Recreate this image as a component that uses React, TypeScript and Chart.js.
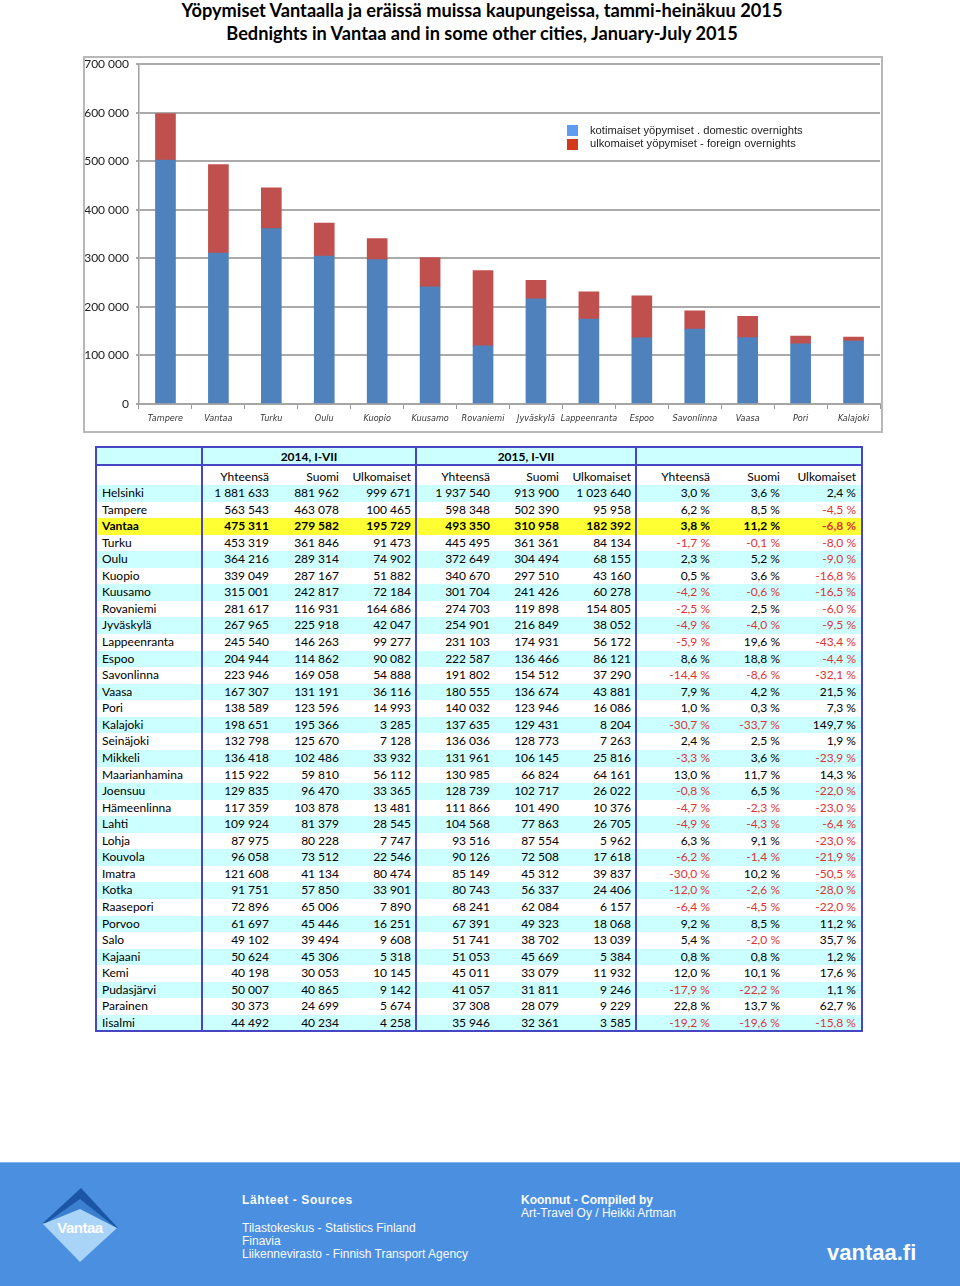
import React, { useEffect, useRef } from "react";
import { Chart, registerables } from "chart.js";

Chart.register(...registerables);

const titleFi = "Yöpymiset Vantaalla ja eräissä muissa kaupungeissa, tammi-heinäkuu 2015";
const titleEn = "Bednights in Vantaa and in some other cities, January-July 2015";

const groupHeaders = ["2014, I-VII", "2015, I-VII", ""];
const subHeaders = ["Yhteensä", "Suomi", "Ulkomaiset"];

const cities = [
  "Helsinki", "Tampere", "Vantaa", "Turku", "Oulu", "Kuopio", "Kuusamo", "Rovaniemi",
  "Jyväskylä", "Lappeenranta", "Espoo", "Savonlinna", "Vaasa", "Pori", "Kalajoki",
  "Seinäjoki", "Mikkeli", "Maarianhamina", "Joensuu", "Hämeenlinna", "Lahti", "Lohja",
  "Kouvola", "Imatra", "Kotka", "Raasepori", "Porvoo", "Salo", "Kajaani", "Kemi",
  "Pudasjärvi", "Parainen", "Iisalmi",
];

const total2014 = [
  1881633, 563543, 475311, 453319, 364216, 339049, 315001, 281617, 267965, 245540, 204944,
  223946, 167307, 138589, 198651, 132798, 136418, 115922, 129835, 117359, 109924, 87975,
  96058, 121608, 91751, 72896, 61697, 49102, 50624, 40198, 50007, 30373, 44492,
];
const finland2014 = [
  881962, 463078, 279582, 361846, 289314, 287167, 242817, 116931, 225918, 146263, 114862,
  169058, 131191, 123596, 195366, 125670, 102486, 59810, 96470, 103878, 81379, 80228,
  73512, 41134, 57850, 65006, 45446, 39494, 45306, 30053, 40865, 24699, 40234,
];
const foreign2014 = [
  999671, 100465, 195729, 91473, 74902, 51882, 72184, 164686, 42047, 99277, 90082,
  54888, 36116, 14993, 3285, 7128, 33932, 56112, 33365, 13481, 28545, 7747,
  22546, 80474, 33901, 7890, 16251, 9608, 5318, 10145, 9142, 5674, 4258,
];
const total2015 = [
  1937540, 598348, 493350, 445495, 372649, 340670, 301704, 274703, 254901, 231103, 222587,
  191802, 180555, 140032, 137635, 136036, 131961, 130985, 128739, 111866, 104568, 93516,
  90126, 85149, 80743, 68241, 67391, 51741, 51053, 45011, 41057, 37308, 35946,
];
const finland2015 = [
  913900, 502390, 310958, 361361, 304494, 297510, 241426, 119898, 216849, 174931, 136466,
  154512, 136674, 123946, 129431, 128773, 106145, 66824, 102717, 101490, 77863, 87554,
  72508, 45312, 56337, 62084, 49323, 38702, 45669, 33079, 31811, 28079, 32361,
];
const foreign2015 = [
  1023640, 95958, 182392, 84134, 68155, 43160, 60278, 154805, 38052, 56172, 86121,
  37290, 43881, 16086, 8204, 7263, 25816, 64161, 26022, 10376, 26705, 5962,
  17618, 39837, 24406, 6157, 18068, 13039, 5384, 11932, 9246, 9229, 3585,
];
const changeTotal = [
  3.0, 6.2, 3.8, -1.7, 2.3, 0.5, -4.2, -2.5, -4.9, -5.9, 8.6, -14.4, 7.9, 1.0, -30.7, 2.4,
  -3.3, 13.0, -0.8, -4.7, -4.9, 6.3, -6.2, -30.0, -12.0, -6.4, 9.2, 5.4, 0.8, 12.0, -17.9, 22.8, -19.2,
];
const changeFinland = [
  3.6, 8.5, 11.2, -0.1, 5.2, 3.6, -0.6, 2.5, -4.0, 19.6, 18.8, -8.6, 4.2, 0.3, -33.7, 2.5,
  3.6, 11.7, 6.5, -2.3, -4.3, 9.1, -1.4, 10.2, -2.6, -4.5, 8.5, -2.0, 0.8, 10.1, -22.2, 13.7, -19.6,
];
const changeForeign = [
  2.4, -4.5, -6.8, -8.0, -9.0, -16.8, -16.5, -6.0, -9.5, -43.4, -4.4, -32.1, 21.5, 7.3, 149.7, 1.9,
  -23.9, 14.3, -22.0, -23.0, -6.4, -23.0, -21.9, -50.5, -28.0, -22.0, 11.2, 35.7, 1.2, 17.6, 1.1, 62.7, -15.8,
];

// Chart shows the 2015 figures of the 14 cities after Helsinki
const chartCities = cities.slice(1, 15);
const chartDomestic = finland2015.slice(1, 15);
const chartForeign = foreign2015.slice(1, 15);
const yMin = 0;
const yMax = 700000;
const yStep = 100000;
const legendLabels = [
  "kotimaiset yöpymiset . domestic overnights",
  "ulkomaiset yöpymiset - foreign overnights",
];

const sourcesTitle = "Lähteet - Sources";
const sources = [
  "Tilastokeskus - Statistics Finland",
  "Finavia",
  "Liikennevirasto - Finnish Transport Agency",
];
const compiledTitle = "Koonnut - Compiled by";
const compiledBy = "Art-Travel Oy / Heikki Artman";

const fmtInt = (n: number) =>
  Math.round(n).toString().replace(/\B(?=(\d{3})+(?!\d))/g, "\u00a0");
const fmtPct = (p: number) => p.toFixed(1).replace(".", ",") + "\u00a0%";

const BLUE = "#4f81bd";
const RED = "#c0504d";
const CYAN = "#ccffff";
const YELLOW = "#ffff33";
const LINE = "#4646c4";
const NEG = "#dd3333";
const TABLE_FONT = "Lato, 'Open Sans', sans-serif";
const ARIAL = "'Liberation Sans', Arial, sans-serif";

function BarChart() {
  const ref = useRef<HTMLCanvasElement>(null);
  useEffect(() => {
    if (!ref.current) return;
    const chart = new Chart(ref.current, {
      type: "bar",
      data: {
        labels: chartCities,
        datasets: [
          { label: legendLabels[0], data: chartDomestic, backgroundColor: BLUE, barThickness: 20 },
          { label: legendLabels[1], data: chartForeign, backgroundColor: RED, barThickness: 20 },
        ],
      },
      options: {
        responsive: false,
        animation: false,
        devicePixelRatio: 1,
        layout: { padding: { top: 0, right: 1, left: 0, bottom: 0 } },
        plugins: { legend: { display: false }, tooltip: { enabled: false } },
        scales: {
          x: {
            stacked: true,
            grid: {
              drawOnChartArea: false,
              drawTicks: true,
              tickLength: 5,
              color: "#9a9a9a",
              lineWidth: 1,
              offset: true,
            },
            border: { display: true, color: "#a6a6a6", width: 2 },
            ticks: {
              font: {
                family: "'Liberation Sans Narrow', 'DejaVu Sans Condensed', sans-serif",
                size: 9,
                style: "italic",
              },
              color: "#333333",
              padding: 4,
              maxRotation: 0,
              autoSkip: false,
            },
            afterFit: (s: any) => {
              s.height = 27;
            },
          },
          y: {
            stacked: true,
            min: yMin,
            max: yMax,
            ticks: {
              stepSize: yStep,
              callback: (v: any) => fmtInt(Number(v)),
              font: { family: TABLE_FONT, size: 12 },
              color: "#222",
              padding: 7,
            },
            grid: { color: "#aaaaaa", lineWidth: 2, tickLength: 3 },
            border: { display: true, color: "#a0a0a0", width: 1.5 },
            afterFit: (s: any) => {
              s.width = 54;
            },
          },
        },
      },
    });
    return () => chart.destroy();
  }, []);
  return (
    <canvas
      ref={ref}
      width={796}
      height={381}
      style={{ position: "absolute", left: 85, top: 50, width: 796, height: 381 }}
    />
  );
}

const colEdges = [96, 202, 274, 344, 416, 495, 564, 636, 715, 785, 862];
const tableTop = 447;
const header1Bottom = 465;
const rowTop = 485;
const rowH = 16.56;

function Table() {
  const tableBottom = rowTop + cities.length * rowH;
  const cells: React.ReactNode[] = [];
  const width = colEdges[colEdges.length - 1] - colEdges[0];

  cells.push(
    <div key="h1bg" style={{ position: "absolute", left: colEdges[0], top: tableTop, width, height: header1Bottom - tableTop, background: CYAN }} />
  );
  [1, 4, 7].forEach((c, g) => {
    cells.push(
      <div
        key={"g" + g}
        style={{
          position: "absolute", left: colEdges[c], width: colEdges[c + 3] - colEdges[c],
          top: tableTop, height: header1Bottom - tableTop, lineHeight: `${header1Bottom - tableTop + 2}px`,
          textAlign: "center", fontWeight: 700,
        }}
      >
        {groupHeaders[g]}
      </div>
    );
  });
  for (let c = 1; c < 10; c++) {
    cells.push(
      <div
        key={"s" + c}
        style={{
          position: "absolute", left: colEdges[c], width: colEdges[c + 1] - colEdges[c] - (c === 9 ? 6 : 5),
          top: header1Bottom + 3, height: rowTop - header1Bottom - 3, lineHeight: `${rowTop - header1Bottom - 3}px`,
          textAlign: "right",
        }}
      >
        {subHeaders[(c - 1) % 3]}
      </div>
    );
  }
  cities.forEach((city, i) => {
    const top = rowTop + i * rowH;
    const isVantaa = city === "Vantaa";
    const bg = isVantaa ? YELLOW : i % 2 === 0 ? CYAN : "#ffffff";
    cells.push(
      <div key={"bg" + i} style={{ position: "absolute", left: colEdges[0], top, width, height: rowH + 0.5, background: bg }} />
    );
    const values: { text: string; neg: boolean }[] = [
      { text: fmtInt(total2014[i]), neg: false },
      { text: fmtInt(finland2014[i]), neg: false },
      { text: fmtInt(foreign2014[i]), neg: false },
      { text: fmtInt(total2015[i]), neg: false },
      { text: fmtInt(finland2015[i]), neg: false },
      { text: fmtInt(foreign2015[i]), neg: false },
      { text: fmtPct(changeTotal[i]), neg: changeTotal[i] < 0 },
      { text: fmtPct(changeFinland[i]), neg: changeFinland[i] < 0 },
      { text: fmtPct(changeForeign[i]), neg: changeForeign[i] < 0 },
    ];
    cells.push(
      <div
        key={"c" + i}
        style={{
          position: "absolute", left: colEdges[0] + 6, top, height: rowH, lineHeight: `${rowH}px`,
          fontWeight: isVantaa ? 700 : 400,
        }}
      >
        {city}
      </div>
    );
    values.forEach((v, j) => {
      const c = j + 1;
      cells.push(
        <div
          key={`v${i}-${j}`}
          style={{
            position: "absolute", left: colEdges[c], width: colEdges[c + 1] - colEdges[c] - (c === 9 ? 6 : 5),
            top, height: rowH, lineHeight: `${rowH}px`, textAlign: "right",
            color: v.neg ? NEG : "#000", fontWeight: isVantaa ? 700 : 400, whiteSpace: "nowrap",
          }}
        >
          {v.text}
        </div>
      );
    });
  });
  [colEdges[0], colEdges[1], colEdges[4], colEdges[7], colEdges[10]].forEach((x, k) => {
    cells.push(
      <div key={"vl" + k} style={{ position: "absolute", left: x - 1, top: tableTop - 1, width: 2, height: tableBottom - tableTop + 2, background: LINE }} />
    );
  });
  [tableTop, header1Bottom, tableBottom].forEach((y, k) => {
    cells.push(
      <div key={"hl" + k} style={{ position: "absolute", left: colEdges[0] - 1, top: y - 1, width: width + 2, height: 2, background: LINE }} />
    );
  });
  return (
    <div style={{ position: "absolute", left: 0, top: 0, fontFamily: TABLE_FONT, fontSize: 12, color: "#000" }}>
      {cells}
    </div>
  );
}

function Logo() {
  return (
    <svg width={960} height={124} style={{ position: "absolute", left: 0, top: 0 }}>
      <polygon points="81,26 118,66 43,61" fill="#1b56a6" />
      <polygon points="80,37 115,65 46,61" fill="#3b7fd0" />
      <polygon points="80,47 117,66 80,100 43,62" fill="#a9d3f7" />
      <text
        x={80}
        y={71}
        textAnchor="middle"
        fill="#ffffff"
        fontFamily={ARIAL}
        fontWeight={700}
        fontSize={15}
        letterSpacing={-0.5}
      >
        Vantaa
      </text>
    </svg>
  );
}

export default function App() {
  return (
    <div
      style={{
        position: "absolute", left: 0, top: 0, width: 960, height: 1286,
        background: "#ffffff", overflow: "hidden",
      }}
    >
      <div style={{ position: "absolute", left: 0, top: -1, width: 964, textAlign: "center", fontFamily: TABLE_FONT, fontWeight: 700, fontSize: 18.2, lineHeight: "22px" }}>
        {titleFi}
      </div>
      <div style={{ position: "absolute", left: 0, top: 22, width: 964, textAlign: "center", fontFamily: TABLE_FONT, fontWeight: 700, fontSize: 18.2, lineHeight: "22px" }}>
        {titleEn}
      </div>

      <div style={{ position: "absolute", left: 83, top: 56, width: 800, height: 377, border: "2px solid #b8b8b8", boxSizing: "border-box" }} />
      <BarChart />
      <div style={{ position: "absolute", left: 567, top: 125, width: 11, height: 11, background: "#5f9cf0" }} />
      <div style={{ position: "absolute", left: 567, top: 139, width: 11, height: 11, background: "#d2381a" }} />
      <div style={{ position: "absolute", left: 590, top: 124, fontFamily: ARIAL, fontSize: 11.2, lineHeight: "13px", color: "#222" }}>
        {legendLabels[0]}
      </div>
      <div style={{ position: "absolute", left: 590, top: 137, fontFamily: ARIAL, fontSize: 11.2, lineHeight: "13px", color: "#222" }}>
        {legendLabels[1]}
      </div>

      <Table />

      <div style={{ position: "absolute", left: 0, top: 1162, width: 960, height: 124, background: "#4a8fe0", color: "#fbfbfb", fontFamily: ARIAL, fontSize: 12 }}>
        <div style={{ position: "absolute", left: 0, top: 0, width: 960, height: 1, background: "#86b5ec" }} />
        <Logo />
        <div style={{ position: "absolute", left: 242, top: 31, fontWeight: 700, letterSpacing: 0.6, lineHeight: "14px" }}>{sourcesTitle}</div>
        {sources.map((s, i) => (
          <div key={s} style={{ position: "absolute", left: 242, top: 59 + i * 13, lineHeight: "14px" }}>{s}</div>
        ))}
        <div style={{ position: "absolute", left: 521, top: 31, fontWeight: 700, lineHeight: "14px" }}>{compiledTitle}</div>
        <div style={{ position: "absolute", left: 521, top: 44, lineHeight: "14px" }}>{compiledBy}</div>
        <div style={{ position: "absolute", left: 827, top: 78, fontWeight: 700, fontSize: 22, lineHeight: "26px" }}>vantaa.fi</div>
      </div>
    </div>
  );
}
